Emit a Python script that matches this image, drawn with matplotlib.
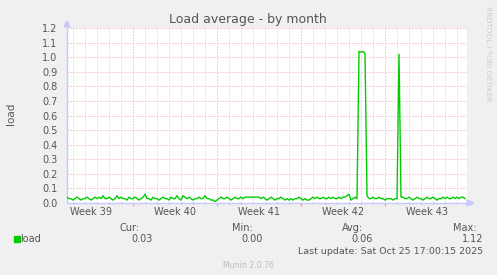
#!/usr/bin/env python3

import matplotlib
matplotlib.use('Agg')
import matplotlib.pyplot as plt
import numpy as np


# Data. Load average sampled every 4 hours over the 33-day window (hundredths).
load = [
    4, 3, 3, 2, 3, 4, 3, 2, 3, 3, 4, 3, 2, 3, 4, 3, 4, 3, 5, 3,
    3, 4, 3, 2, 3, 5, 3, 4, 3, 3, 2, 4, 3, 3, 4, 3, 2, 3, 4, 6,
    3, 3, 2, 4, 3, 3, 2, 3, 4, 3, 3, 2, 4, 3, 3, 5, 3, 2, 5, 4,
    3, 4, 3, 2, 3, 3, 4, 3, 3, 5, 3, 3, 2, 2, 1, 2, 3, 4, 3, 3,
    4, 3, 2, 3, 4, 3, 3, 4, 3, 4, 4, 4, 4, 4, 4, 4, 4, 3, 4, 3,
    2, 3, 4, 3, 2, 3, 3, 4, 3, 2, 3, 2, 3, 2, 3, 3, 4, 3, 2, 3,
    2, 2, 3, 4, 3, 4, 3, 3, 4, 3, 3, 4, 3, 4, 3, 3, 4, 3, 4, 4,
    5, 6, 2, 3, 4, 3, 104, 103.5, 104, 102.5, 5, 3, 3, 4, 3, 3, 4, 3, 3, 2,
    3, 3, 3, 2, 3, 3, 102, 4, 4, 3, 3, 4, 3, 2, 3, 4, 3, 3, 2, 3,
    4, 3, 3, 4, 3, 2, 3, 3, 4, 3, 4, 3, 3, 4, 3, 4, 3, 4, 4, 3,
]
samples_per_day = 6
week_labels = ['Week 39', 'Week 40', 'Week 41', 'Week 42', 'Week 43']
week_starts = [5.5, 12.5, 19.5, 26.5]  # Mondays, in days from window start.
legend_names = ['Cur:', 'Min:', 'Avg:', 'Max:']
legend_values = ['0.03', '0.00', '0.06', '1.12']
last_update = 'Last update: Sat Oct 25 17:00:15 2025'


# Settings.
W, H = 497, 275
bg = '#f0f0f0'
text_color = '#555555'
axis_color = '#c8c8ff'
mgrid_color = '#e8a3a3'
grid_color = '#cfcfcf'
line_color = '#00cc00'
matplotlib.rcParams['font.family'] = 'DejaVu Sans'
matplotlib.rcParams['font.size'] = 7


def px(x, y):
    # Pixel position (from top left) to figure fraction.
    return x / W, 1 - y / H


fig = plt.figure(figsize=(W / 100, H / 100), dpi=100, facecolor=bg)
ax = fig.add_axes((67 / W, 72 / H, 400 / W, 175 / H))
ax.set_facecolor('white')

t = np.arange(len(load)) / samples_per_day
y = np.asarray(load) / 100
ax.plot(t, y, color=line_color, linewidth=1.0, zorder=3)

x_end = 400 / 12
ax.set_xlim(0, x_end)
ax.set_ylim(0, 1.2)

# Grid: dotted minor days, dotted red week lines and every 0.1 horizontally.
dots = (0, (1, 2))
for d in np.arange(0.5, x_end, 1.0):
    if d not in week_starts:
        ax.axvline(d, color=grid_color, lw=0.72, ls=dots, zorder=1)
for d in week_starts:
    ax.axvline(d, color=mgrid_color, lw=0.72, ls=dots, zorder=1)
for v in np.arange(1, 13) / 10:
    ax.axhline(v, color=mgrid_color, lw=0.72, ls=dots, zorder=1)

for s in ['top', 'right']:
    ax.spines[s].set_visible(False)
for s in ['left', 'bottom']:
    ax.spines[s].set_color(axis_color)
    ax.spines[s].set_linewidth(1.0)

ax.set_yticks(np.arange(0, 13) / 10)
ax.set_yticklabels(['%.1f' % v for v in np.arange(0, 13) / 10])
ax.tick_params(axis='y', length=0, pad=7, colors=text_color, labelsize=7)

ax.set_xticks(week_starts)
ax.set_xticklabels([])
ax.tick_params(axis='x', which='major', length=2, direction='out',
               color=mgrid_color, width=1)
ax.set_xticks(np.arange(0.5, x_end, 1.0), minor=True)
ax.tick_params(axis='x', which='minor', length=2, direction='inout',
               color='#aaaaaa', width=0.7)
for i, lab in enumerate(week_labels):
    ax.text(week_starts[0] - 3.5 + 7 * i, -0.062, lab, ha='center',
            va='center', color=text_color, fontsize=7)

# Axis arrows.
fig.patches.append(plt.Polygon([px(64, 27), px(70, 27), px(67, 21)],
                               closed=True, color=axis_color,
                               transform=fig.transFigure))
fig.patches.append(plt.Polygon([px(467, 200), px(467, 206), px(474, 203)],
                               closed=True, color=axis_color,
                               transform=fig.transFigure))

# Texts.
fig.text(*px(248, 19), 'Load average - by month', ha='center', va='center',
         color=text_color, fontsize=9)
fig.text(*px(11, 114), 'load', ha='center', va='center', rotation=90,
         color=text_color, fontsize=7.5)
fig.text(*px(488, 54), 'RRDTOOL / TOBI OETIKER', ha='center', va='center',
         rotation=270, color='#cccccc', fontsize=5.4)

fig.patches.append(plt.Rectangle(px(14, 242), 5.5 / W, 6 / H,
                                 color=line_color, transform=fig.transFigure))
fig.text(*px(20.5, 239), 'load', ha='left', va='center', color=text_color,
         fontsize=7)
name_x = [140, 253, 363, 477]
value_x = [153, 263, 373, 483]
for n, v, nx, vx in zip(legend_names, legend_values, name_x, value_x):
    fig.text(*px(nx, 228), n, ha='right', va='center', color=text_color,
             fontsize=7)
    fig.text(*px(vx, 239), v, ha='right', va='center', color=text_color,
             fontsize=7)
fig.text(*px(483, 252), last_update, ha='right', va='center',
         color=text_color, fontsize=6.8)
fig.text(*px(248, 265), 'Munin 2.0.76', ha='center', va='center',
         color='#bbbbbb', fontsize=5.6)

fig.savefig('out.png', facecolor=bg, dpi=100)
